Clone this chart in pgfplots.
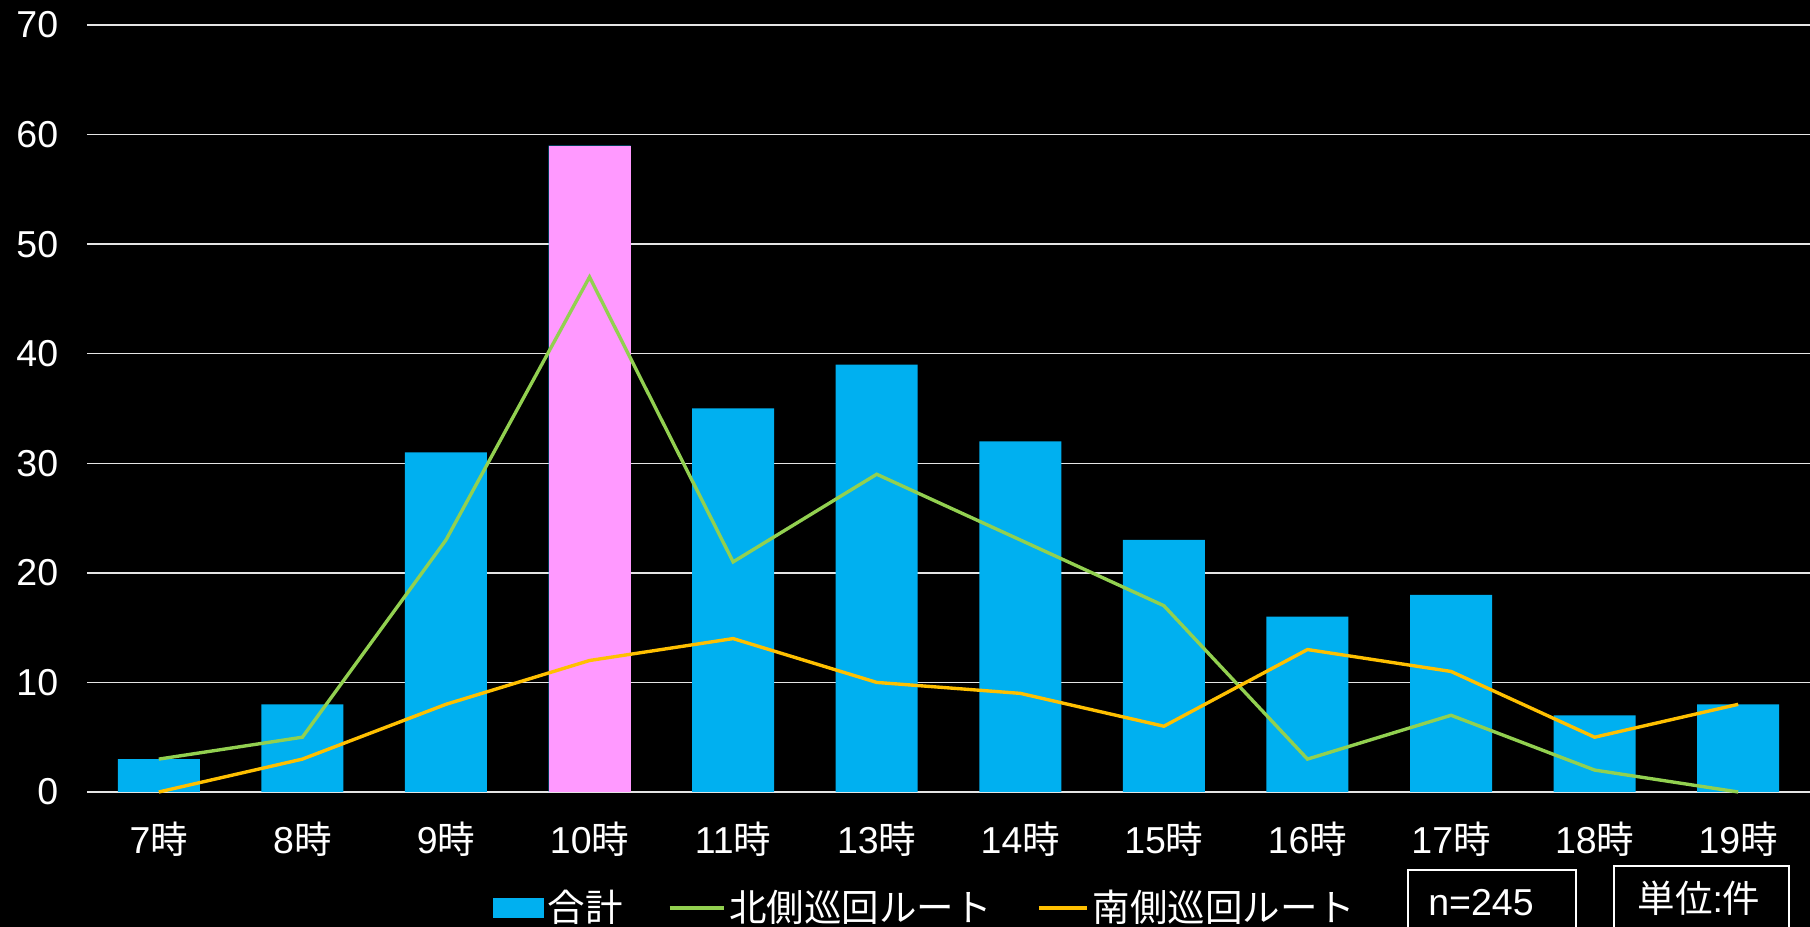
\documentclass[border=0pt]{standalone}
\usepackage{fontspec}
\setmainfont{Liberation Sans}
\newfontfamily\jp{Noto Sans CJK JP}
\usepackage{pgfplots}
\pgfplotsset{compat=1.18}

\definecolor{barblue}{HTML}{00B0F0}
\definecolor{barpink}{HTML}{FF99FF}
\definecolor{northgreen}{HTML}{92D050}
\definecolor{southorange}{HTML}{FFC000}

\begin{document}
\begin{tikzpicture}
% black page
\fill[black] (0pt,0pt) rectangle (724pt,370.8pt);

\begin{axis}[
  at={(34.8pt,54pt)}, anchor=south west,
  scale only axis,
  width=689.2pt, height=306.8pt,
  xmin=-0.5, xmax=11.5,
  ymin=0, ymax=70,
  ytick={0,10,...,70},
  xtick={0,...,11},
  xticklabels={7{\jp 時},8{\jp 時},9{\jp 時},10{\jp 時},11{\jp 時},13{\jp 時},14{\jp 時},15{\jp 時},16{\jp 時},17{\jp 時},18{\jp 時},19{\jp 時}},
  major tick length=0pt,
  axis line style={draw=none},
  ymajorgrids,
  grid style={white!90!black, line width=0.6pt},
  /pgf/number format/assume math mode=true,
  tick label style={text=white, font=\fontsize{15}{18}\selectfont},
  yticklabel style={xshift=-8pt},
  xticklabel style={yshift=-8.5pt},
  clip=false,
  legend columns=3,
  legend style={
    at={(0.2356,-0.151)}, anchor=west,
    draw=none, fill=none, text=white,
    inner sep=0pt, outer sep=0pt,
    font=\fontsize{15}{18}\selectfont\jp,
    nodes={inner sep=1pt},
    /tikz/every odd column/.append style={column sep=0.5pt},
    /tikz/every even column/.append style={column sep=17pt},
  },
]
% totals per hour
\addplot[ybar, bar width=32.8pt, bar shift=0pt, fill=barblue, draw=none,
  legend image code/.code={\fill[barblue] (0pt,-4pt) rectangle (20.4pt,4pt);}]
  coordinates {(0,3) (1,8) (2,31) (3,59) (4,35) (5,39) (6,32) (7,23) (8,16) (9,18) (10,7) (11,8)};
\addlegendentry{合計}
% peak hour highlighted
\addplot[ybar, bar width=32.8pt, bar shift=0pt, fill=barpink, draw=none, forget plot]
  coordinates {(3,59)};
% north route
\addplot[northgreen, line width=1.35pt, sharp plot, mark=none,
  legend image code/.code={\draw[northgreen, line width=1.6pt] (0pt,0pt) -- (21.6pt,0pt);}]
  coordinates {(0,3) (1,5) (2,23) (3,47) (4,21) (5,29) (6,23) (7,17) (8,3) (9,7) (10,2) (11,0)};
\addlegendentry{北側巡回ルート}
% south route
\addplot[southorange, line width=1.35pt, sharp plot, mark=none,
  legend image code/.code={\draw[southorange, line width=1.6pt] (0pt,0pt) -- (19.2pt,0pt);}]
  coordinates {(0,0) (1,3) (2,8) (3,12) (4,14) (5,10) (6,9) (7,6) (8,13) (9,11) (10,5) (11,8)};
\addlegendentry{南側巡回ルート}
\end{axis}

% sample size and unit boxes
\draw[white, line width=0.8pt] (563.2pt,22.8pt) rectangle (630.4pt,-5pt);
\node[text=white, font=\fontsize{15}{18}\selectfont] at (592.4pt,9.6pt) {n=245};
\draw[white, line width=0.8pt] (645.6pt,24.4pt) rectangle (715.6pt,-5pt);
\node[text=white, font=\fontsize{15}{18}\selectfont] at (679.6pt,11.6pt) {{\jp 単位}:{\jp 件}};

\pgfresetboundingbox
\useasboundingbox (0pt,0pt) rectangle (724pt,370.8pt);
\end{tikzpicture}
\end{document}
